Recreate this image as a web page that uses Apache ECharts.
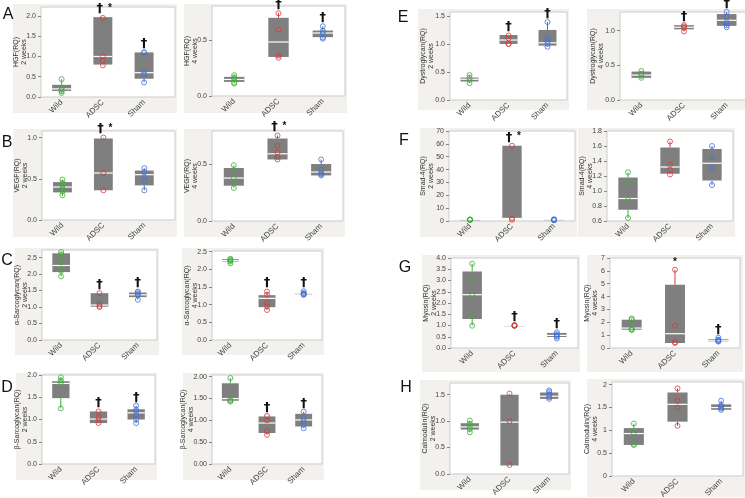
<!DOCTYPE html>
<html><head><meta charset="utf-8">
<script src="https://cdn.jsdelivr.net/npm/echarts@6/dist/echarts.min.js"></script>
<style>html,body{margin:0;padding:0;background:#fff}#c{width:745px;height:498px}</style>
</head><body><div id="c"></div>
<script>
const categories = ['Wild', 'ADSC', 'Sham'];
const groupColors = ['#3fae3a', '#d33c3c', '#4470d6'];

// box rows: [min, q1, median, q3, max] per category
// A  HGF
const hgf2Ticks = ['0.0', '0.5', '1.0', '1.5', '2.0'];
const hgf2Box = [[0.09, 0.15, 0.2, 0.3, 0.44], [0.78, 0.8, 1.0, 1.97, 1.97], [0.36, 0.45, 0.6, 1.1, 1.1]];
const hgf2Pts = [[0.44, 0.22, 0.18, 0.14, 0.1], [1.95, 1.0, 0.9, 0.78], [1.1, 1.1, 0.62, 0.55, 0.36]];
const hgf2Marks = ['', '†*', '†'];
const hgf4Ticks = ['0.0', '0.5'];
const hgf4Box = [[0.11, 0.125, 0.147, 0.17, 0.19], [0.34, 0.347, 0.48, 0.695, 0.74], [0.51, 0.523, 0.56, 0.582, 0.62]];
const hgf4Pts = [[0.185, 0.165, 0.15, 0.12, 0.11], [0.735, 0.59, 0.36, 0.34], [0.62, 0.58, 0.56, 0.52, 0.51]];
const hgf4Marks = ['', '†', '†'];
// B  VEGF
const vegf2Ticks = ['0.0', '0.5', '1.0'];
const vegf2Box = [[0.29, 0.335, 0.4, 0.46, 0.49], [0.36, 0.36, 0.57, 0.99, 1.0], [0.36, 0.42, 0.55, 0.6, 0.63]];
const vegf2Pts = [[0.49, 0.45, 0.42, 0.38, 0.35, 0.3], [1.0, 0.57, 0.36], [0.63, 0.58, 0.52, 0.48, 0.36]];
const vegf2Marks = ['', '†*', ''];
const vegf4Ticks = ['0.0', '0.5'];
const vegf4Box = [[0.29, 0.31, 0.377, 0.465, 0.49], [0.54, 0.54, 0.59, 0.724, 0.75], [0.4, 0.4, 0.43, 0.5, 0.54]];
const vegf4Pts = [[0.49, 0.44, 0.38, 0.33, 0.29], [0.75, 0.66, 0.6, 0.56, 0.54], [0.54, 0.45, 0.42, 0.41, 0.4]];
const vegf4Marks = ['', '†*', ''];
// C  alpha-Sarcoglycan
const asg2Ticks = ['0.0', '0.5', '1.0', '1.5', '2.0', '2.5'];
const asg2Box = [[1.93, 2.06, 2.26, 2.63, 2.67], [1.0, 1.01, 1.06, 1.42, 1.42], [1.22, 1.3, 1.37, 1.44, 1.47]];
const asg2Pts = [[2.67, 2.6, 2.35, 2.1, 1.93], [1.42, 1.1, 1.03, 1.0], [1.47, 1.45, 1.4, 1.36, 1.22]];
const asg2Marks = ['', '†', '†'];
const asg4Ticks = ['0.0', '0.5', '1.0', '1.5', '2.0', '2.5'];
const asg4Box = [[2.17, 2.22, 2.25, 2.29, 2.3], [0.85, 0.93, 1.18, 1.27, 1.37], [1.27, 1.29, 1.31, 1.33, 1.38]];
const asg4Pts = [[2.3, 2.28, 2.25, 2.22, 2.17], [1.37, 1.28, 1.05, 0.95, 0.85], [1.38, 1.33, 1.31, 1.29, 1.28]];
const asg4Marks = ['', '†', '†'];
// D  beta-Sarcoglycan
const bsg2Ticks = ['0.0', '0.5', '1.0', '1.5', '2.0'];
const bsg2Box = [[1.25, 1.48, 1.81, 1.86, 1.95], [0.92, 0.92, 1.01, 1.18, 1.18], [0.92, 1.0, 1.15, 1.23, 1.31]];
const bsg2Pts = [[1.95, 1.88, 1.84, 1.25], [1.18, 1.05, 0.98, 0.92], [1.31, 1.22, 1.18, 1.1, 1.0, 0.92]];
const bsg2Marks = ['', '†', '†'];
const bsg4Ticks = ['0.00', '0.50', '1.00', '1.50', '2.00'];
const bsg4Box = [[1.43, 1.45, 1.5, 1.85, 1.97], [0.67, 0.71, 0.94, 1.09, 1.1], [0.82, 0.86, 1.01, 1.15, 1.2]];
const bsg4Pts = [[1.97, 1.47, 1.45, 1.43], [1.1, 1.0, 0.75, 0.67], [1.2, 1.05, 0.98, 0.9, 0.82]];
const bsg4Marks = ['', '†', '†'];
// E  Dystroglycan
const dg2Ticks = ['0.0', '0.5', '1.0', '1.5'];
const dg2Box = [[0.3, 0.33, 0.37, 0.4, 0.445], [1.0, 1.0, 1.07, 1.16, 1.16], [0.95, 0.97, 1.02, 1.25, 1.39]];
const dg2Pts = [[0.445, 0.4, 0.36, 0.3], [1.15, 1.1, 1.0, 1.0], [1.39, 1.1, 1.05, 1.0, 0.95]];
const dg2Marks = ['', '†', '†'];
const dg4Ticks = ['0.0', '0.5', '1.0'];
const dg4Box = [[0.31, 0.32, 0.36, 0.41, 0.42], [0.99, 1.02, 1.05, 1.08, 1.08], [1.05, 1.07, 1.15, 1.24, 1.27]];
const dg4Pts = [[0.42, 0.38, 0.35, 0.32], [1.08, 1.06, 1.04, 0.99], [1.27, 1.2, 1.12, 1.08, 1.05]];
const dg4Marks = ['', '†', '†'];
// F  Smad-4
const smad2Ticks = ['0', '10', '20', '30', '40', '50', '60', '70'];
const smad2Box = [[0.8, 0.9, 1.0, 1.1, 1.2], [0.9, 1.5, 2.0, 58.6, 58.6], [0.6, 0.8, 1.0, 1.2, 1.3]];
const smad2Pts = [[1.2, 1.05, 1.0, 0.95, 0.8], [58.6, 2.0, 0.9], [1.3, 1.1, 1.0, 0.8, 0.6]];
const smad2Marks = ['', '†*', ''];
const smad4Ticks = ['0.6', '0.8', '1.0', '1.2', '1.4', '1.6', '1.8'];
const smad4Box = [[0.64, 0.75, 0.9, 1.18, 1.25], [1.22, 1.23, 1.32, 1.58, 1.66], [1.08, 1.14, 1.37, 1.56, 1.6]];
const smad4Pts = [[1.25, 1.12, 0.88, 0.64], [1.66, 1.35, 1.28, 1.22], [1.6, 1.45, 1.3, 1.08]];
const smad4Marks = ['', '', ''];
// G  Myosin
const myo2Ticks = ['0.0', '0.5', '1.0', '1.5', '2.0', '2.5', '3.0', '3.5', '4.0'];
const myo2Box = [[0.99, 1.29, 2.37, 3.4, 3.75], [0.98, 0.99, 1.0, 1.01, 1.02], [0.42, 0.49, 0.56, 0.67, 0.7]];
const myo2Pts = [[3.75, 3.1, 2.4, 1.5, 0.99], [1.02, 1.0, 1.0, 0.98], [0.7, 0.62, 0.55, 0.5, 0.42]];
const myo2Marks = ['', '†', '†'];
const myo4Ticks = ['0', '1', '2', '3', '4', '5', '6', '7'];
const myo4Box = [[1.4, 1.42, 1.55, 2.2, 2.3], [0.39, 0.39, 1.11, 4.92, 6.09], [0.5, 0.52, 0.6, 0.7, 0.8]];
const myo4Pts = [[2.3, 2.2, 1.5, 1.45, 1.4], [6.09, 1.73, 0.45, 0.39], [0.8, 0.65, 0.6, 0.55, 0.5]];
const myo4Marks = ['', '*', '†'];
// H  Calmodulin
const cam2Ticks = ['0.0', '0.5', '1.0', '1.5'];
const cam2Box = [[0.79, 0.84, 0.89, 0.96, 1.01], [0.16, 0.16, 0.98, 1.5, 1.52], [1.42, 1.42, 1.47, 1.54, 1.58]];
const cam2Pts = [[1.01, 0.95, 0.9, 0.85, 0.79], [1.52, 1.0, 0.17], [1.58, 1.55, 1.5, 1.45, 1.42]];
const cam2Marks = ['', '', ''];
const cam4Ticks = ['0', '0.5', '1', '1.5', '2'];
const cam4Box = [[0.68, 0.68, 0.93, 1.05, 1.15], [1.1, 1.19, 1.57, 1.83, 1.92], [1.45, 1.45, 1.5, 1.57, 1.65]];
const cam4Pts = [[1.15, 0.95, 0.7, 0.68], [1.92, 1.65, 1.5, 1.1], [1.65, 1.55, 1.52, 1.48, 1.45]];
const cam4Marks = ['', '', ''];

// layout (positions only)
const panels = [
  { name: 'HGF(RQ)\n2 weeks', ticks: hgf2Ticks, box: hgf2Box, pts: hgf2Pts, marks: hgf2Marks, yMin: 0, yMax: 2.22, rect: [41, 7, 175, 97], bg: [13, 4, 177, 113], xMax: 2.75 },
  { name: 'HGF(RQ)\n4 weeks', ticks: hgf4Ticks, box: hgf4Box, pts: hgf4Pts, marks: hgf4Marks, yMin: 0, yMax: 0.8, rect: [212, 6, 345, 96], bg: [184, 4, 347, 113] },
  { name: 'VEGF(RQ)\n2 weeks', ticks: vegf2Ticks, box: vegf2Box, pts: vegf2Pts, marks: vegf2Marks, yMin: 0, yMax: 1.08, rect: [42, 131, 175, 220], bg: [13, 129, 177, 237], xMax: 2.75 },
  { name: 'VEGF(RQ)\n4 weeks', ticks: vegf4Ticks, box: vegf4Box, pts: vegf4Pts, marks: vegf4Marks, yMin: 0, yMax: 0.79, rect: [212, 131, 343, 221], bg: [184, 129, 345, 237] },
  { name: 'α-Sarcoglycan(RQ)\n2 weeks', ticks: asg2Ticks, box: asg2Box, pts: asg2Pts, marks: asg2Marks, yMin: 0, yMax: 2.73, rect: [42, 250, 157, 340], bg: [15, 248, 159, 355] },
  { name: 'α-Sarcoglycan(RQ)\n4 weeks', ticks: asg4Ticks, box: asg4Box, pts: asg4Pts, marks: asg4Marks, yMin: 0, yMax: 2.52, rect: [212, 251, 322, 340], bg: [182, 248, 324, 355] },
  { name: 'β-Sarcoglycan(RQ)\n2 weeks', ticks: bsg2Ticks, box: bsg2Box, pts: bsg2Pts, marks: bsg2Marks, yMin: 0, yMax: 2.0, rect: [42, 375, 155, 464], bg: [16, 373, 157, 480] },
  { name: 'β-Sarcoglycan(RQ)\n4 weeks', ticks: bsg4Ticks, box: bsg4Box, pts: bsg4Pts, marks: bsg4Marks, yMin: 0, yMax: 2.04, rect: [212, 375, 322, 464], bg: [183, 373, 324, 480], gap: 17 },
  { name: 'Dystroglycan(RQ)\n2 weeks', ticks: dg2Ticks, box: dg2Box, pts: dg2Pts, marks: dg2Marks, yMin: 0, yMax: 1.57, rect: [450, 12, 567, 100], bg: [418, 9, 569, 110], gap: 15 },
  { name: 'Dystroglycan(RQ)\n4 weeks', ticks: dg4Ticks, box: dg4Box, pts: dg4Pts, marks: dg4Marks, yMin: 0, yMax: 1.27, rect: [620, 12, 748, 100], bg: [587, 9, 745, 110], gap: 15 },
  { name: 'Smad-4(RQ)\n2 weeks', ticks: smad2Ticks, box: smad2Box, pts: smad2Pts, marks: smad2Marks, yMin: 0, yMax: 70, rect: [449, 131, 575, 221], bg: [420, 128, 577, 237], gap: 14 },
  { name: 'Smad-4(RQ)\n4 weeks', ticks: smad4Ticks, box: smad4Box, pts: smad4Pts, marks: smad4Marks, yMin: 0.6, yMax: 1.8, rect: [607, 131, 733, 221], bg: [578, 128, 735, 237] },
  { name: 'Myosin(RQ)\n2 weeks', ticks: myo2Ticks, box: myo2Box, pts: myo2Pts, marks: myo2Marks, yMin: 0, yMax: 4, rect: [451, 258, 578, 348], bg: [422, 255, 580, 372] },
  { name: 'Myosin(RQ)\n4 weeks', ticks: myo4Ticks, box: myo4Box, pts: myo4Pts, marks: myo4Marks, yMin: 0, yMax: 7, rect: [610, 258, 740, 348], bg: [587, 255, 743, 372], gap: 11 },
  { name: 'Calmodulin(RQ)\n2 weeks', ticks: cam2Ticks, box: cam2Box, pts: cam2Pts, marks: cam2Marks, yMin: 0, yMax: 1.72, rect: [450, 383, 569, 474], bg: [420, 380, 571, 490] },
  { name: 'Calmodulin(RQ)\n4 weeks', ticks: cam4Ticks, box: cam4Box, pts: cam4Pts, marks: cam4Marks, yMin: 0, yMax: 2.06, rect: [612, 382, 743, 476], bg: [587, 379, 745, 497] }
];
const letters = [['A', 8, 15], ['B', 7, 143], ['C', 7, 261], ['D', 7, 388], ['E', 403, 18], ['F', 404, 141], ['G', 405, 268], ['H', 406, 388]];

const FONT = 'Liberation Sans, Arial, sans-serif';
const grids = [], xAxes = [], yAxes = [], series = [], graphics = [];

panels.forEach((p, i) => {
  const [l, t, r, b] = p.rect;
  graphics.push({ type: 'rect', z: -10, shape: { x: p.bg[0], y: p.bg[1], width: p.bg[2] - p.bg[0], height: p.bg[3] - p.bg[1] }, style: { fill: '#f2f1ed' } });
  grids.push({ left: l, top: t, width: r - l, height: b - t, show: true, backgroundColor: '#ffffff', borderColor: '#cbcbcb', borderWidth: 1, outerBoundsMode: 'none', containLabel: false });
  const tickVals = p.ticks.map(Number);
  xAxes.push({
    gridIndex: i, type: 'value', min: -0.5, max: p.xMax || 2.5,
    axisLine: { show: false, onZero: false }, splitLine: { show: false },
    axisTick: { show: false },
    axisLabel: { customValues: [0, 1, 2], formatter: v => categories[Math.round(v)], rotate: 45, fontSize: 8, color: '#444', fontFamily: FONT, margin: 4 }
  });
  yAxes.push({
    gridIndex: i, type: 'value', min: p.yMin, max: p.yMax,
    name: p.name, nameLocation: 'middle', nameRotate: 90, nameGap: p.gap || 13, nameMoveOverlap: false,
    nameTextStyle: { fontSize: 7, lineHeight: 8, color: '#333', fontFamily: FONT },
    axisLine: { show: false, onZero: false }, splitLine: { show: false },
    axisTick: { show: true, customValues: tickVals, length: 3, lineStyle: { color: '#888' } },
    axisLabel: { customValues: tickVals, fontSize: 7, color: '#444', fontFamily: FONT, margin: 5,
      formatter: v => { const s = p.ticks.find(tk => Math.abs(Number(tk) - v) < 1e-9); return s === undefined ? '' : s; } }
  });
  // boxes
  series.push({
    type: 'custom', xAxisIndex: i, yAxisIndex: i, z: 2,
    data: p.box.map((bx, ci) => [ci].concat(bx)),
    renderItem: (params, api) => {
      const ci = api.value(0);
      const v = [1, 2, 3, 4, 5].map(k => api.value(k));
      const pts = v.map(val => api.coord([ci, val]));
      const x = pts[0][0];
      const bw = api.size([1, 0])[0] * 0.46;
      const col = groupColors[ci];
      return {
        type: 'group', children: [
          { type: 'line', shape: { x1: x, y1: pts[0][1], x2: x, y2: pts[1][1] }, style: { stroke: col, lineWidth: 1 } },
          { type: 'line', shape: { x1: x, y1: pts[3][1], x2: x, y2: pts[4][1] }, style: { stroke: col, lineWidth: 1 } },
          { type: 'rect', shape: { x: x - bw / 2, y: pts[3][1], width: bw, height: Math.max(1, pts[1][1] - pts[3][1]) }, style: { fill: '#7f7f7f' } },
          { type: 'line', shape: { x1: x - bw / 2, y1: pts[2][1], x2: x + bw / 2, y2: pts[2][1] }, style: { stroke: '#ffffff', lineWidth: 1.2 } }
        ]
      };
    }
  });
  // points
  const sdata = [];
  p.pts.forEach((arr, ci) => arr.forEach(val => sdata.push({ value: [ci, val], itemStyle: { borderColor: groupColors[ci] } })));
  series.push({
    type: 'scatter', xAxisIndex: i, yAxisIndex: i, z: 3, symbol: 'circle', symbolSize: 5,
    itemStyle: { color: 'rgba(0,0,0,0)', borderWidth: 1 }, data: sdata, silent: true
  });
  // significance marks
  const mdata = [];
  p.marks.forEach((m, ci) => { if (m) mdata.push([ci, p.box[ci][4]]); });
  series.push({
    type: 'custom', xAxisIndex: i, yAxisIndex: i, z: 4, clip: false,
    data: mdata,
    renderItem: (params, api) => {
      const ci = api.value(0);
      const pt = api.coord([ci, api.value(1)]);
      const m = p.marks[ci];
      const hasD = m.indexOf('†') >= 0, hasS = m.indexOf('*') >= 0;
      const ch = [];
      if (hasD) ch.push({ type: 'text', x: pt[0] - (hasS ? 3 : 0), y: pt[1] - 2, style: { text: '†', fontSize: 13, fontFamily: 'DejaVu Sans', fontWeight: 'bold', fill: '#111', align: 'center', verticalAlign: 'bottom' } });
      if (hasS) ch.push({ type: 'text', x: pt[0] + (hasD ? 7 : 0), y: pt[1] - (hasD ? 4 : 2), style: { text: '*', fontSize: 10, fontFamily: FONT, fontWeight: 'bold', fill: '#111', align: 'center', verticalAlign: 'bottom' } });
      return { type: 'group', children: ch };
    }
  });
});

letters.forEach(([txt, x, y]) => graphics.push({ type: 'text', z: 100, x: x, y: y, style: { text: txt, fontSize: 16, fontFamily: FONT, fill: '#111', align: 'center', verticalAlign: 'middle' } }));

const chart = echarts.init(document.getElementById('c'), null, { renderer: 'canvas' });
chart.setOption({
  animation: false,
  backgroundColor: '#ffffff',
  grid: grids, xAxis: xAxes, yAxis: yAxes, series: series,
  graphic: { elements: graphics }
});
</script></body></html>
